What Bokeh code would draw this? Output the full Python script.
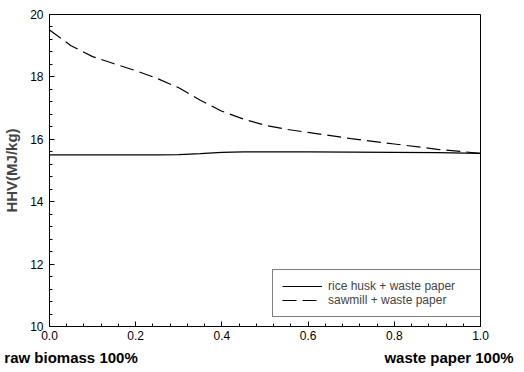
from bokeh.plotting import figure
from bokeh.models import (Range1d, Legend, LegendItem, FixedTicker, LinearAxis,
                          CustomJSTickFormatter)
from bokeh.embed import file_html
from bokeh.resources import INLINE

frac = [0.0, 0.05, 0.1, 0.15, 0.2, 0.25, 0.3, 0.35, 0.4, 0.45, 0.5, 0.55, 0.6, 0.7, 0.8, 0.9, 1.0]
rice_husk = [15.5, 15.5, 15.5, 15.5, 15.5, 15.5, 15.51, 15.54, 15.58, 15.6, 15.6, 15.6, 15.6, 15.59, 15.58, 15.57, 15.55]
sawmill = [19.5, 19.0, 18.65, 18.42, 18.2, 17.95, 17.65, 17.25, 16.9, 16.65, 16.45, 16.32, 16.22, 16.02, 15.85, 15.68, 15.55]
x_ticks = [0.0, 0.2, 0.4, 0.6, 0.8, 1.0]
y_ticks = [10, 12, 14, 16, 18, 20]
end_labels = ["raw biomass 100%", "waste paper 100%"]
end_label_pos = [0.05, 0.927]

FONT = "Liberation Sans"

p = figure(frame_width=431, frame_height=312, output_backend="svg", toolbar_location=None,
           x_range=Range1d(0, 1), y_range=Range1d(10, 20),
           min_border_left=43, min_border_right=34, min_border_top=14, min_border_bottom=10)
p.background_fill_color = "white"
p.border_fill_color = "white"
p.outline_line_color = "black"
p.outline_line_width = 1
p.grid.visible = False

for ax in (p.xaxis[0], p.yaxis[0]):
    ax.axis_line_color = "black"
    ax.major_tick_in = 5
    ax.major_tick_out = 0
    ax.minor_tick_in = 3
    ax.minor_tick_out = 0
    ax.major_label_text_font = FONT
    ax.major_label_text_font_size = "12px"
    ax.major_label_text_color = "black"

p.xaxis[0].ticker = FixedTicker(ticks=x_ticks, minor_ticks=[i * 0.04 for i in range(26)])
p.yaxis[0].ticker = FixedTicker(ticks=y_ticks, minor_ticks=[10 + i * 0.4 for i in range(26)])
p.xaxis[0].formatter = CustomJSTickFormatter(code="return tick.toFixed(1);")
p.xaxis[0].major_label_standoff = 4
p.yaxis[0].major_label_standoff = 6

p.yaxis[0].axis_label = "HHV(MJ/kg)"
p.yaxis[0].axis_label_text_font = FONT
p.yaxis[0].axis_label_text_font_style = "bold"
p.yaxis[0].axis_label_text_font_size = "15px"
p.yaxis[0].axis_label_standoff = 7

# second x axis carrying the two end-member captions
end_axis = LinearAxis(
    ticker=FixedTicker(ticks=end_label_pos, minor_ticks=[]),
    formatter=CustomJSTickFormatter(
        args=dict(labels=end_labels),
        code="return tick < 0.5 ? labels[0] : labels[1];"),
    axis_line_color=None, major_tick_line_color=None, minor_tick_line_color=None,
    major_label_standoff=0,
    major_label_text_font=FONT, major_label_text_font_style="bold",
    major_label_text_font_size="15px", major_label_text_color="black")
p.add_layout(end_axis, "below")

r1 = p.line(frac, rice_husk, line_color="black", line_width=1.2)
r2 = p.line(frac, sawmill, line_color="black", line_width=1.2, line_dash="14 6")

legend = Legend(items=[LegendItem(label="rice husk + waste paper", renderers=[r1]),
                       LegendItem(label="sawmill + waste paper", renderers=[r2])],
                location=(223, 9), padding=9, spacing=0, glyph_width=40, glyph_height=14,
                label_height=14, label_standoff=6, label_width=146,
                label_text_font=FONT, label_text_font_size="12px",
                border_line_color="black", border_line_width=1,
                background_fill_alpha=1.0, margin=0)
p.add_layout(legend, "center")

open("out.html", "w").write(file_html(p, INLINE))
